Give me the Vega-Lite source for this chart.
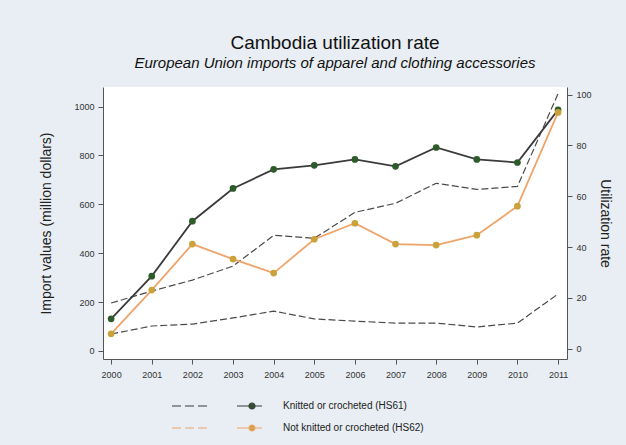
{
  "$schema": "https://vega.github.io/schema/vega-lite/v6.json",
  "autosize": {"type": "none"},
  "padding": {"left": 103, "top": 87, "right": 59, "bottom": 86},
  "width": 464,
  "height": 272,
  "background": "#E8EEF3",
  "config": {
    "font": "Liberation Sans",
    "view": {"fill": "#FFFFFF", "stroke": null},
    "axis": {"grid": false, "domainColor": "#555555", "tickColor": "#555555", "labelColor": "#333333", "labelFontSize": 9, "titleFontWeight": "normal", "titleColor": "#222222", "titleFontSize": 14, "tickSize": 5}
  },
  "title": {
    "text": "Cambodia utilization rate",
    "subtitle": "European Union imports of apparel and clothing accessories",
    "fontSize": 19,
    "fontWeight": "normal",
    "color": "#111111",
    "subtitleFontSize": 15,
    "subtitleFontStyle": "italic",
    "subtitleColor": "#111111",
    "subtitlePadding": 3,
    "offset": 16,
    "anchor": "middle"
  },
  "data": {
    "values": [
      {"year": 2000, "series": "Knitted or crocheted (HS61)", "imports": 196, "util": 11.8},
      {"year": 2001, "series": "Knitted or crocheted (HS61)", "imports": 245, "util": 28.6},
      {"year": 2002, "series": "Knitted or crocheted (HS61)", "imports": 290, "util": 50.2},
      {"year": 2003, "series": "Knitted or crocheted (HS61)", "imports": 347, "util": 63.1},
      {"year": 2004, "series": "Knitted or crocheted (HS61)", "imports": 473, "util": 70.6},
      {"year": 2005, "series": "Knitted or crocheted (HS61)", "imports": 461, "util": 72.2},
      {"year": 2006, "series": "Knitted or crocheted (HS61)", "imports": 567, "util": 74.5},
      {"year": 2007, "series": "Knitted or crocheted (HS61)", "imports": 604, "util": 71.8},
      {"year": 2008, "series": "Knitted or crocheted (HS61)", "imports": 686, "util": 79.2},
      {"year": 2009, "series": "Knitted or crocheted (HS61)", "imports": 661, "util": 74.5},
      {"year": 2010, "series": "Knitted or crocheted (HS61)", "imports": 673, "util": 73.3},
      {"year": 2011, "series": "Knitted or crocheted (HS61)", "imports": 1053, "util": 94.0},
      {"year": 2000, "series": "Not knitted or crocheted (HS62)", "imports": 69, "util": 5.9},
      {"year": 2001, "series": "Not knitted or crocheted (HS62)", "imports": 102, "util": 23.1},
      {"year": 2002, "series": "Not knitted or crocheted (HS62)", "imports": 110, "util": 41.2},
      {"year": 2003, "series": "Not knitted or crocheted (HS62)", "imports": 135, "util": 35.3},
      {"year": 2004, "series": "Not knitted or crocheted (HS62)", "imports": 163, "util": 29.8},
      {"year": 2005, "series": "Not knitted or crocheted (HS62)", "imports": 131, "util": 43.1},
      {"year": 2006, "series": "Not knitted or crocheted (HS62)", "imports": 122, "util": 49.4},
      {"year": 2007, "series": "Not knitted or crocheted (HS62)", "imports": 114, "util": 41.2},
      {"year": 2008, "series": "Not knitted or crocheted (HS62)", "imports": 114, "util": 40.8},
      {"year": 2009, "series": "Not knitted or crocheted (HS62)", "imports": 98, "util": 44.7},
      {"year": 2010, "series": "Not knitted or crocheted (HS62)", "imports": 114, "util": 56.1},
      {"year": 2011, "series": "Not knitted or crocheted (HS62)", "imports": 233, "util": 93.0}
    ]
  },
  "encoding": {
    "x": {
      "field": "year",
      "type": "quantitative",
      "scale": {"domain": [1999.8, 2011.22], "nice": false, "zero": false},
      "axis": {"title": null, "values": [2000, 2001, 2002, 2003, 2004, 2005, 2006, 2007, 2008, 2009, 2010, 2011], "format": "d", "labelFlush": false, "labelPadding": 6}
    }
  },
  "layer": [
    {
      "mark": {"type": "line", "strokeDash": [7, 3], "strokeWidth": 1.2, "color": "#4a4a4a"},
      "encoding": {
        "y": {
          "field": "imports",
          "type": "quantitative",
          "scale": {"domain": [-33, 1080], "nice": false, "zero": false},
          "axis": {"orient": "left", "title": "Import values (million dollars)", "values": [0, 200, 400, 600, 800, 1000], "format": "d", "titlePadding": 20, "labelPadding": 4}
        },
        "detail": {"field": "series"}
      }
    },
    {
      "layer": [
        {
          "mark": {"type": "line", "strokeWidth": 1.8},
          "encoding": {
            "y": {
              "field": "util",
              "type": "quantitative",
              "scale": {"domain": [-4, 103], "nice": false, "zero": false},
              "axis": {"orient": "right", "title": "Utilization rate", "values": [0, 20, 40, 60, 80, 100], "titlePadding": 6, "labelPadding": 4}
            },
            "color": {
              "field": "series",
              "type": "nominal",
              "scale": {"domain": ["Knitted or crocheted (HS61)", "Not knitted or crocheted (HS62)"], "range": ["#3b3b3b", "#EFA46A"]},
              "legend": {
                "title": null,
                "orient": "none",
                "legendX": 143,
                "legendY": 313,
                "direction": "vertical",
                "padding": 0,
                "rowPadding": 10,
                "labelFontSize": 10,
                "labelColor": "#222222",
                "labelOffset": 25,
                "symbolSize": 100,
                "symbolStrokeWidth": 1.2,
                "symbolType": "M-16,0L-14.2,0M-13.4,0L-11.6,0M-10.8,0L-9,0M-3,0L2,0M0.6,0A0.6,0.6 0 1,1 -0.6,0A0.6,0.6 0 1,1 0.6,0Z",
                "encode": {
                  "symbols": {
                    "update": {
                      "fill": {"signal": "datum.value === 'Knitted or crocheted (HS61)' ? '#2E5B2A' : '#C9A23A'"},
                      "fillOpacity": {"value": 1}
                    }
                  }
                }
              }
            }
          }
        },
        {
          "mark": {"type": "point", "filled": true, "size": 45, "opacity": 1},
          "encoding": {
            "y": {"field": "util", "type": "quantitative"},
            "fill": {
              "field": "series",
              "type": "nominal",
              "scale": {"domain": ["Knitted or crocheted (HS61)", "Not knitted or crocheted (HS62)"], "range": ["#2E5B2A", "#C9A23A"]},
              "legend": null
            }
          }
        }
      ]
    }
  ],
  "resolve": {"scale": {"y": "independent"}}
}
